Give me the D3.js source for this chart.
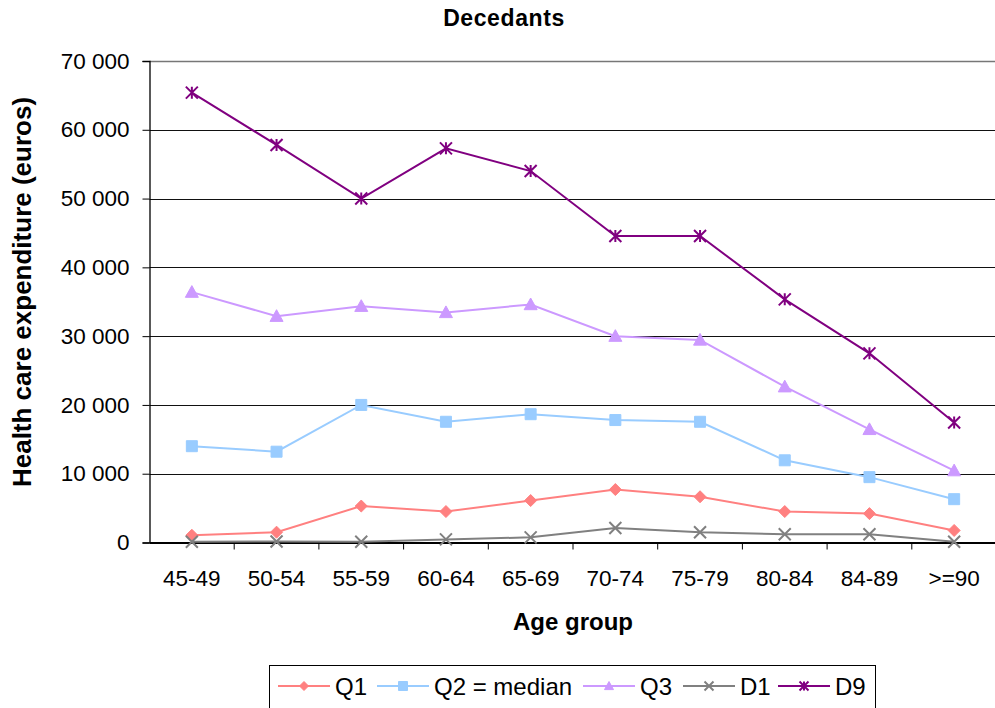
<!DOCTYPE html>
<html>
<head>
<meta charset="utf-8">
<script src="https://cdn.jsdelivr.net/npm/d3@7"></script>
<style>
  html, body { margin: 0; padding: 0; background: #fff; }
  svg { display: block; font-family: "Liberation Sans", Arial, sans-serif; }
</style>
</head>
<body>
<svg id="chart" width="995" height="708"></svg>
<script>
// Age groups on the horizontal axis
const ageGroups = ["45-49", "50-54", "55-59", "60-64", "65-69", "70-74", "75-79", "80-84", "84-89", ">=90"];

// Health care expenditure (euros) per age group
const q1     = [1050, 1500, 5300, 4500, 6100, 7700, 6650, 4500, 4200, 1750];
const q2     = [14000, 13200, 20000, 17550, 18650, 17800, 17550, 11950, 9500, 6300];
const q3     = [36400, 32900, 34350, 33450, 34600, 30000, 29450, 22650, 16450, 10450];
const d1     = [100, 150, 100, 450, 750, 2100, 1500, 1200, 1200, 100];
const d9     = [65400, 57800, 50000, 57300, 54000, 44550, 44550, 35350, 27500, 17450];

const yTicks = [0, 10000, 20000, 30000, 40000, 50000, 60000, 70000];
const seriesNames = ["Q1", "Q2 = median", "Q3", "D1", "D9"];
const seriesColors = ["#FF8080", "#99CCFF", "#CC99FF", "#808080", "#800080"];
const seriesMarkers = ["diamond", "square", "triangle", "x", "star"];
const seriesValues = [q1, q2, q3, d1, d9];

const series = seriesNames.map((name, i) => ({
  name, color: seriesColors[i], marker: seriesMarkers[i], values: seriesValues[i]
}));

const svg = d3.select("#chart");
const plotLeft = 149.5, plotRight = 996.5, plotTop = 61, plotBottom = 542.5;

const x = d3.scaleBand().domain(ageGroups).range([plotLeft, plotRight]);
const y = d3.scaleLinear().domain([0, 70000]).range([plotBottom, plotTop]);

const fmt = v => d3.format(",")(v).replace(/,/g, " ");

// Horizontal gridlines
svg.append("g")
  .selectAll("line")
  .data(yTicks.filter(t => t > 0))
  .join("line")
  .attr("x1", plotLeft).attr("x2", 995)
  .attr("y1", d => Math.round(y(d)) + 0.5).attr("y2", d => Math.round(y(d)) + 0.5)
  .attr("stroke", d => d === 70000 ? "#777" : "#111").attr("stroke-width", d => d === 70000 ? 1.5 : 1);

// Y axis
const yAxis = svg.append("g")
  .attr("transform", `translate(${plotLeft},0)`)
  .call(d3.axisLeft(y).tickValues(yTicks).tickFormat(fmt).tickSize(7).tickPadding(13));
yAxis.select(".domain").attr("stroke", "#000").attr("stroke-width", 1.3);
yAxis.selectAll(".tick line").attr("stroke", "#000");
yAxis.selectAll(".tick text").attr("font-size", 22.5).attr("fill", "#000")
  .attr("font-family", "Liberation Sans, Arial, sans-serif");

// X axis with ticks on category boundaries
const xAxis = svg.append("g")
  .attr("transform", `translate(0,${plotBottom})`)
  .call(d3.axisBottom(x).tickSize(0).tickPadding(28));
xAxis.select(".domain").attr("stroke", "#000").attr("stroke-width", 2);
xAxis.selectAll(".tick text").attr("font-size", 22.5).attr("fill", "#000")
  .attr("font-family", "Liberation Sans, Arial, sans-serif");
svg.append("g")
  .selectAll("line")
  .data(ageGroups.slice(1))
  .join("line")
  .attr("x1", d => x(d)).attr("x2", d => x(d))
  .attr("y1", plotBottom).attr("y2", plotBottom + 7)
  .attr("stroke", "#000").attr("stroke-width", 1);

// Marker shapes
function markerPath(type, s) {
  const h = s / 2;
  switch (type) {
    case "diamond": return `M0,${-h}L${h},0L0,${h}L${-h},0Z`;
    case "square": return `M${-h},${-h}H${h}V${h}H${-h}Z`;
    case "triangle": return `M0,${-h}L${h},${h * 0.8}L${-h},${h * 0.8}Z`;
    case "x": return `M${-h},${-h}L${h},${h}M${-h},${h}L${h},${-h}`;
    case "star": return `M${-h},${-h}L${h},${h}M${-h},${h}L${h},${-h}M0,${-h}V${h}`;
  }
}
function drawMarker(g, type, color, s) {
  const open = type === "x" || type === "star";
  g.append("path")
    .attr("d", markerPath(type, s))
    .attr("fill", open ? "none" : color)
    .attr("stroke", color)
    .attr("stroke-width", open ? 2 : 1);
}

// Series lines and markers
const line = d3.line()
  .x((d, i) => x(ageGroups[i]) + x.bandwidth() / 2)
  .y(d => y(d));

const sizes = { diamond: 12, square: 11, triangle: 13, x: 12, star: 12 };

series.forEach(s => {
  svg.append("path")
    .datum(s.values)
    .attr("d", line)
    .attr("fill", "none")
    .attr("stroke", s.color)
    .attr("stroke-width", 2);
  s.values.forEach((v, i) => {
    const g = svg.append("g")
      .attr("transform", `translate(${x(ageGroups[i]) + x.bandwidth() / 2},${y(v)})`);
    drawMarker(g, s.marker, s.color, sizes[s.marker]);
  });
});

// Titles
svg.append("text")
  .attr("x", 504).attr("y", 26)
  .attr("text-anchor", "middle")
  .attr("font-size", 23).attr("font-weight", "bold")
  .attr("letter-spacing", 0.6)
  .text("Decedants");

svg.append("text")
  .attr("x", 573).attr("y", 630)
  .attr("text-anchor", "middle")
  .attr("font-size", 24).attr("font-weight", "bold")
  .text("Age group");

svg.append("text")
  .attr("transform", `translate(31,292) rotate(-90)`)
  .attr("text-anchor", "middle")
  .attr("font-size", 26).attr("font-weight", "bold")
  .text("Health care expenditure (euros)");

// Legend
const legend = svg.append("g");
legend.append("rect")
  .attr("x", 269.5).attr("y", 665.5)
  .attr("width", 606).attr("height", 60)
  .attr("fill", "#fff").attr("stroke", "#000").attr("stroke-width", 1);

const legendX = [278, 377, 583, 683, 778];
series.forEach((s, i) => {
  const g = legend.append("g").attr("transform", `translate(${legendX[i]},686)`);
  g.append("line").attr("x1", 0).attr("x2", 52).attr("y1", 0).attr("y2", 0)
    .attr("stroke", s.color).attr("stroke-width", 2);
  const m = g.append("g").attr("transform", "translate(26,0)");
  drawMarker(m, s.marker, s.color, 9);
  g.append("text").attr("x", 57).attr("y", 8.5)
    .attr("font-size", 24).attr("fill", "#000")
    .text(s.name);
});
</script>
</body>
</html>
